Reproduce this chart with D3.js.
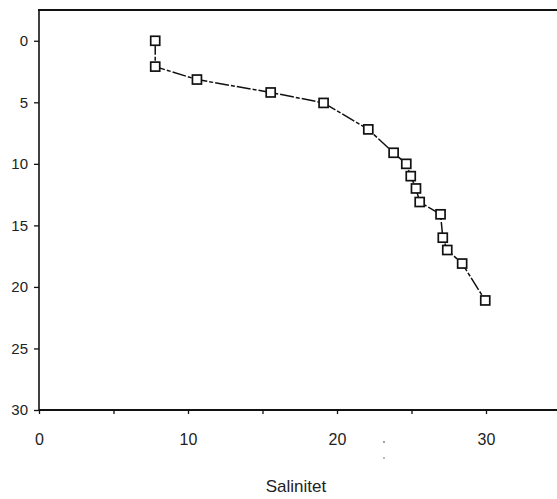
<!DOCTYPE html>
<html>
<head>
<meta charset="utf-8">
<script src="https://cdn.jsdelivr.net/npm/d3@7"></script>
<style>
  html, body { margin: 0; padding: 0; background: #fff; }
  svg { display: block; }
  text { font-family: "Liberation Sans", Arial, sans-serif; fill: #222; }
</style>
</head>
<body>
<svg id="chart" width="557" height="499"></svg>
<script>
// Data (salinity vs depth)
const salinity = [7.8, 7.8, 10.6, 15.55, 19.1, 22.1, 23.8, 24.65, 24.95, 25.3, 25.55, 26.95, 27.1, 27.4, 28.4, 29.95];
const depth    = [0, 2.1, 3.15, 4.2, 5.05, 7.2, 9.1, 10, 11, 12, 13.1, 14.1, 16, 17, 18.1, 21.1];
const xTicks = [0, 5, 10, 15, 20, 25, 30, 35];
const xTickLabels = [0, 10, 20, 30];
const yTicks = [0, 5, 10, 15, 20, 25, 30];
const xTitle = "Salinitet";

const svg = d3.select("#chart");
const x = d3.scaleLinear().domain([0, 35]).range([39, 39 + 35 * 14.9]);
const y = d3.scaleLinear().domain([-2.5, 30]).range([10, 410]);

// frame: top line, left axis, bottom axis
svg.append("line").attr("x1", x(0) - 1).attr("x2", 557).attr("y1", y(-2.5)).attr("y2", y(-2.5))
  .attr("stroke", "#111").attr("stroke-width", 2);
svg.append("line").attr("x1", x(0)).attr("x2", x(0)).attr("y1", y(-2.5)).attr("y2", y(30))
  .attr("stroke", "#111").attr("stroke-width", 1.6);
svg.append("line").attr("x1", x(0)).attr("x2", 557).attr("y1", y(30)).attr("y2", y(30))
  .attr("stroke", "#111").attr("stroke-width", 2);

// y axis ticks + labels
const yAxis = d3.axisLeft(y).tickValues(yTicks).tickSize(5).tickPadding(6).tickFormat(d3.format("d"));
const gy = svg.append("g").attr("transform", `translate(${x(0)},0)`).call(yAxis);
gy.select(".domain").remove();
gy.selectAll(".tick line").attr("stroke", "#111").attr("stroke-width", 1.3);
gy.selectAll(".tick text").attr("font-size", 15).style("font-family", "'Liberation Sans', Arial, sans-serif").attr("fill", "#333");

// x axis ticks + labels
const xAxis = d3.axisBottom(x).tickValues(xTicks).tickSize(4).tickPadding(20)
  .tickFormat(d => xTickLabels.includes(d) ? d3.format("d")(d) : "");
const gx = svg.append("g").attr("transform", `translate(0,${y(30)})`).call(xAxis);
gx.select(".domain").remove();
gx.selectAll(".tick line").attr("stroke", "#111").attr("stroke-width", 1.3);
gx.selectAll(".tick text").attr("font-size", 16).style("font-family", "'Liberation Sans', Arial, sans-serif").attr("fill", "#222");

// x title
svg.append("text").attr("x", 296).attr("y", 492).attr("text-anchor", "middle")
  .attr("font-size", 17).text(xTitle);

// small scan specks near the axis
svg.append("circle").attr("cx", 384).attr("cy", 442).attr("r", 0.9).attr("fill", "#777");
svg.append("circle").attr("cx", 384).attr("cy", 458).attr("r", 0.9).attr("fill", "#999");

// profile line
const pts = salinity.map((s, i) => [s, depth[i]]);
const line = d3.line().x(d => x(d[0])).y(d => y(d[1]));
svg.append("path").datum(pts).attr("d", line).attr("fill", "none")
  .attr("stroke", "#111").attr("stroke-width", 1.5)
  .attr("stroke-dasharray", "14,2,4,2");

// square markers
svg.selectAll("rect.pt").data(pts).enter().append("rect").attr("class", "pt")
  .attr("x", d => x(d[0]) - 4.5).attr("y", d => y(d[1]) - 4.5)
  .attr("width", 9).attr("height", 9)
  .attr("fill", "#fff").attr("stroke", "#111").attr("stroke-width", 1.7);
</script>
</body>
</html>
